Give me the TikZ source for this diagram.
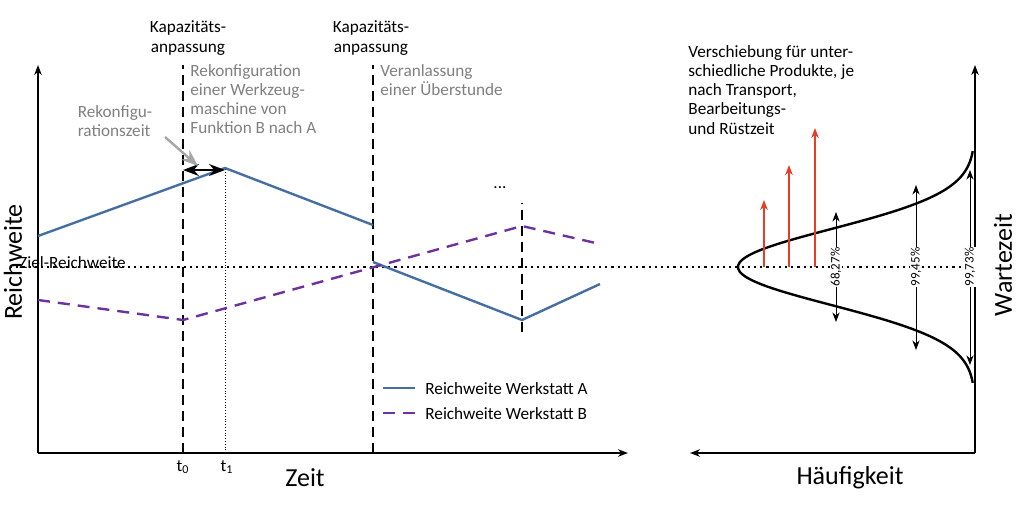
\documentclass[tikz,border=0pt]{standalone}
\usepackage{fontspec}
\setmainfont{Carlito}
\usetikzlibrary{arrows.meta, positioning}
\definecolor{lineA}{RGB}{70,110,160}
\definecolor{lineB}{RGB}{110,50,160}
\definecolor{redarrow}{RGB}{230,60,40}
\begin{document}
\begin{tikzpicture}[
        x=0.5pt, y=-0.5pt,
        axis/.style={line width=1.2pt, -{Stealth[length=5pt]}},
        cut/.style={line width=1.1pt, dash pattern=on 5pt off 3pt},
        txt/.style={font=\fontsize{8.6}{9.6}\selectfont, inner sep=0pt, align=left},
        note/.style={txt, text=gray},
        big/.style={font=\fontsize{13}{15}\selectfont, inner sep=0pt},
        pct/.style={font=\fontsize{6.5}{7}\selectfont, inner sep=0.5pt, rotate=90, fill=white},
        >=Stealth
      ]
      \useasboundingbox (0,0) rectangle (1024,505);

      % Axes
      \coordinate (o) at (38,453);
      \coordinate (ytop) at (38,65);
      \coordinate (xend) at (628,453);
      \coordinate (ro) at (975,453);
      \coordinate (rtop) at (975,65);
      \coordinate (rend) at (690,453);
      \draw[axis] (o) -- (ytop);
      \draw[axis] (o) -- (xend);
      \draw[axis] (ro) -- (rtop);
      \draw[axis] (ro) -- (rend);

      % Target line
      \coordinate (z0) at (10,267);
      \coordinate (z1) at (975,267);
      \draw[line width=1.1pt, dotted] (z0) -- (z1);
      \node[txt, anchor=south west] (ziel) at (19,269) {Ziel-Reichweite};

      % Event lines
      \coordinate (c1a) at (183,453); \coordinate (c1b) at (183,65);
      \coordinate (c2a) at (373,453); \coordinate (c2b) at (373,65);
      \coordinate (c3a) at (522,332); \coordinate (c3b) at (522,203);
      \coordinate (t1a) at (225,453); \coordinate (t1b) at (225,168);
      \draw[cut] (c1a) -- (c1b);
      \draw[cut] (c2a) -- (c2b);
      \draw[cut] (c3a) -- (c3b);
      \draw[densely dotted, thin] (t1a) -- (t1b);

      % Workshop A
      \draw[lineA, line width=1.2pt] (38,236) -- (225,168) -- (373,225);
      \draw[lineA, line width=1.2pt] (373,262) -- (522,320) -- (600,284);
      % Workshop B
      \draw[lineB, line width=1.2pt, dash pattern=on 6pt off 4pt] (38,300) -- (183,320) -- (522,226) -- (600,244);

      % Reconfiguration time
      \coordinate (r0) at (183,170);
      \coordinate (r1) at (225,170);
      \draw[<->, line width=1.1pt] (r0) -- (r1);
      \node[note, align=left] (rzeit) at (115,121) {Rekonfigu-\\rationszeit};
      \draw[->, gray!70, line width=1.2pt] (165,137) -- (198,166);

      % Texts
      \node[txt, align=center] (kap1) at (188,38) {Kapazitäts-\\anpassung};
      \node[txt, align=center] (kap2) at (371,38) {Kapazitäts-\\anpassung};
      \node[note, anchor=north west] (rekon) at (190,64) {Rekonfiguration\\einer Werkzeug-\\maschine von\\Funktion B nach A};
      \node[note, anchor=north west] (veran) at (380,64) {Veranlassung\\einer Überstunde};
      \node[txt] (dots) at (500,188) {...};
      \node[txt] (t0) at (183,467) {t\textsubscript{0}};
      \node[txt] (t1) at (227,467) {t\textsubscript{1}};
      \node[big] (zeit) at (305,478) {Zeit};
      \node[big] (hauf) at (850,478) {Häufigkeit};
      \node[big, rotate=90] (reich) at (13,262) {Reichweite};
      \node[big, rotate=90] (wart) at (1003,265) {Wartezeit};

      % Legend
      \draw[lineA, line width=1.2pt] (383,388) -- (415,388);
      \node[txt, anchor=west] (legA) at (425,389) {Reichweite Werkstatt A};
      \draw[lineB, line width=1.2pt, dash pattern=on 6pt off 4pt] (383,413) -- (422,413);
      \node[txt, anchor=west] (legB) at (425,414) {Reichweite Werkstatt B};

      % Distribution
      \draw[line width=1.2pt, domain=-3.05:3.05, samples=80, smooth]
        plot ({975-237*exp(-\x*\x/2)}, {267+\x*38});
      \draw[<->] (836,212) -- (836,322);
      \draw[<->] (916,185) -- (916,350);
      \draw[<->] (970,170) -- (970,365);
      \node[pct] (p1) at (836,267) {68,27\%};
      \node[pct] (p2) at (916,267) {99,45\%};
      \node[pct] (p3) at (970,267) {99,73\%};

      % Shifts
      \foreach \xx/\yy in {764/200, 789/165, 815/128}
        \draw[redarrow, line width=1.3pt, -{Stealth[length=5pt]}] (\xx,267) -- (\xx,\yy);
      \node[txt, anchor=north west] (versch) at (688,45) {Verschiebung für unter-\\schiedliche Produkte, je\\nach Transport,\\Bearbeitungs-\\und Rüstzeit};

      \end{tikzpicture}
\end{document}
